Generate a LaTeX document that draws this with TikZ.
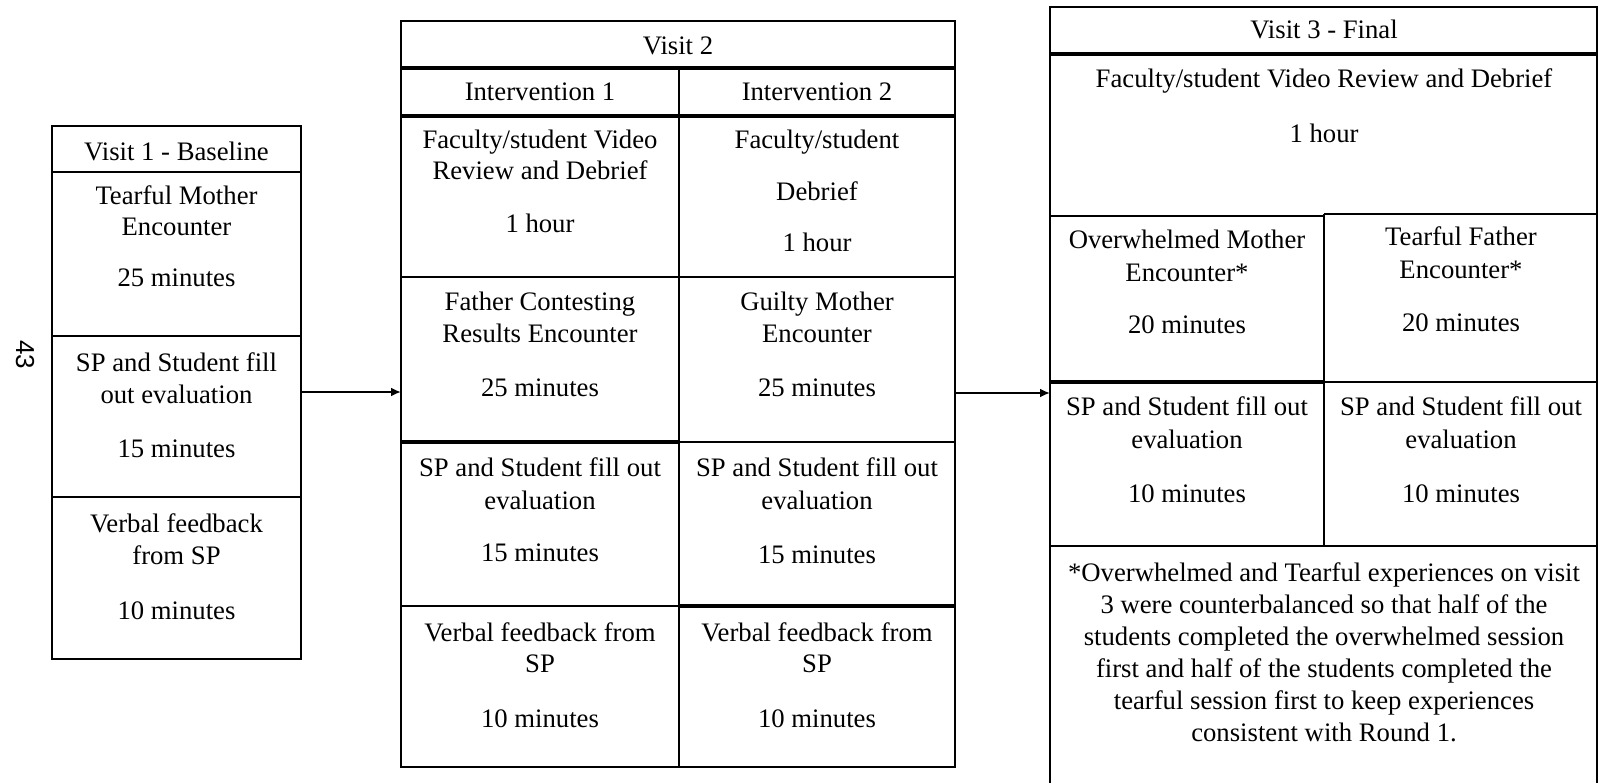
\documentclass[tikz,border=0pt]{standalone}
\usepackage{fontspec}
\setmainfont{Liberation Serif}
\newfontfamily\pagenumfont{Liberation Sans}
\usetikzlibrary{arrows.meta}
\begin{document}
\begin{tikzpicture}[x=1pt,y=-1pt,
  normline/.style={line width=1.6pt},
  heavyline/.style={line width=3.4pt},
  txt/.style={font=\fontsize{26.7}{32}\selectfont, inner sep=0pt, text height=18pt, text depth=0pt},
  flow/.style={line width=2.4pt, -{Latex[length=10pt,width=9pt]}}]
\useasboundingbox (0,0) rectangle (1600,783);
\fill[white] (0,0) rectangle (1600,783);

% page number
\node[font=\pagenumfont\fontsize{26}{30}\selectfont, rotate=-90, inner sep=0pt] (pg) at (25,355) {43};

% ---------------- Visit 1 ----------------
\draw[normline] (52,126) rectangle (301,659);
\draw[normline] (52,172) -- (301,172);
\draw[normline] (52,336) -- (301,336);
\draw[normline] (52,497) -- (301,497);
\node[txt] (v1h)  at (176.5,152) {Visit 1 - Baseline};
\node[txt] (v1a1) at (176.5,196) {Tearful Mother};
\node[txt] (v1a2) at (176.5,227) {Encounter};
\node[txt] (v1a3) at (176.5,278) {25 minutes};
\node[txt] (v1b1) at (176.5,362) {SP and Student fill};
\node[txt] (v1b2) at (176.5,394) {out evaluation};
\node[txt] (v1b3) at (176.5,448) {15 minutes};
\node[txt] (v1c1) at (176.5,523) {Verbal feedback};
\node[txt] (v1c2) at (176.5,555) {from SP};
\node[txt] (v1c3) at (176.5,610) {10 minutes};

% ---------------- Visit 2 ----------------
\draw[normline] (401,21) rectangle (955,767);
\draw[heavyline] (401,68) -- (955,68);
\draw[heavyline] (401,116) -- (955,116);
\draw[normline] (679,68) -- (679,767);
\draw[normline] (401,277) -- (955,277);
\draw[heavyline] (401,442) -- (679,442);
\draw[normline] (679,442) -- (955,442);
\draw[normline] (401,606) -- (679,606);
\draw[heavyline] (679,606) -- (955,606);
\node[txt] (v2h) at (678,46) {Visit 2};
\node[txt] (i1) at (540,92) {Intervention 1};
\node[txt] (i2) at (817,92) {Intervention 2};
\node[txt] (l1a) at (540,140) {Faculty/student Video};
\node[txt] (l1b) at (540,171) {Review and Debrief};
\node[txt] (l1c) at (540,224) {1 hour};
\node[txt] (r1a) at (817,140) {Faculty/student};
\node[txt] (r1b) at (817,192) {Debrief};
\node[txt] (r1c) at (817,243) {1 hour};
\node[txt] (l2a) at (540,302) {Father Contesting};
\node[txt] (l2b) at (540,333) {Results Encounter};
\node[txt] (l2c) at (540,387) {25 minutes};
\node[txt] (r2a) at (817,302) {Guilty Mother};
\node[txt] (r2b) at (817,333) {Encounter};
\node[txt] (r2c) at (817,387) {25 minutes};
\node[txt] (l3a) at (540,467) {SP and Student fill out};
\node[txt] (l3b) at (540,500) {evaluation};
\node[txt] (l3c) at (540,552) {15 minutes};
\node[txt] (r3a) at (817,467) {SP and Student fill out};
\node[txt] (r3b) at (817,500) {evaluation};
\node[txt] (r3c) at (817,554) {15 minutes};
\node[txt] (l4a) at (540,632) {Verbal feedback from};
\node[txt] (l4b) at (540,663) {SP};
\node[txt] (l4c) at (540,718) {10 minutes};
\node[txt] (r4a) at (817,632) {Verbal feedback from};
\node[txt] (r4b) at (817,663) {SP};
\node[txt] (r4c) at (817,718) {10 minutes};

% ---------------- Visit 3 ----------------
\draw[normline] (1050,800) -- (1050,7) -- (1597,7) -- (1597,800);
\draw[heavyline] (1050,54) -- (1597,54);
\draw[normline] (1050,216) -- (1324,216);
\draw[normline] (1324,214) -- (1597,214);
\draw[normline] (1324,214) -- (1324,546);
\draw[heavyline] (1050,382) -- (1324,382);
\draw[normline] (1324,382) -- (1597,382);
\draw[normline] (1050,546) -- (1597,546);
\node[txt] (v3h) at (1324,30) {Visit 3 - Final};
\node[txt] (v3a) at (1324,79) {Faculty/student Video Review and Debrief};
\node[txt] (v3b) at (1324,134) {1 hour};
\node[txt] (ol1) at (1187,240) {Overwhelmed Mother};
\node[txt] (ol2) at (1187,273) {Encounter*};
\node[txt] (ol3) at (1187,325) {20 minutes};
\node[txt] (tf1) at (1461,237) {Tearful Father};
\node[txt] (tf2) at (1461,270) {Encounter*};
\node[txt] (tf3) at (1461,323) {20 minutes};
\node[txt] (el1) at (1187,406) {SP and Student fill out};
\node[txt] (el2) at (1187,439) {evaluation};
\node[txt] (el3) at (1187,493) {10 minutes};
\node[txt] (er1) at (1461,406) {SP and Student fill out};
\node[txt] (er2) at (1461,439) {evaluation};
\node[txt] (er3) at (1461,493) {10 minutes};
\node[txt] (fn1) at (1324,572) {*Overwhelmed and Tearful experiences on visit};
\node[txt] (fn2) at (1324,604) {3 were counterbalanced so that half of the};
\node[txt] (fn3) at (1324,636) {students completed the overwhelmed session};
\node[txt] (fn4) at (1324,668) {first and half of the students completed the};
\node[txt] (fn5) at (1324,700) {tearful session first to keep experiences};
\node[txt] (fn6) at (1324,732) {consistent with Round 1.};

% ---------------- arrows ----------------
\coordinate (v1out) at (301,392);
\coordinate (v2in)  at (401,392);
\coordinate (v2out) at (955,393);
\coordinate (v3in)  at (1050,393);
\draw[flow] (v1out) -- (v2in);
\draw[flow] (v2out) -- (v3in);
\end{tikzpicture}
\end{document}
